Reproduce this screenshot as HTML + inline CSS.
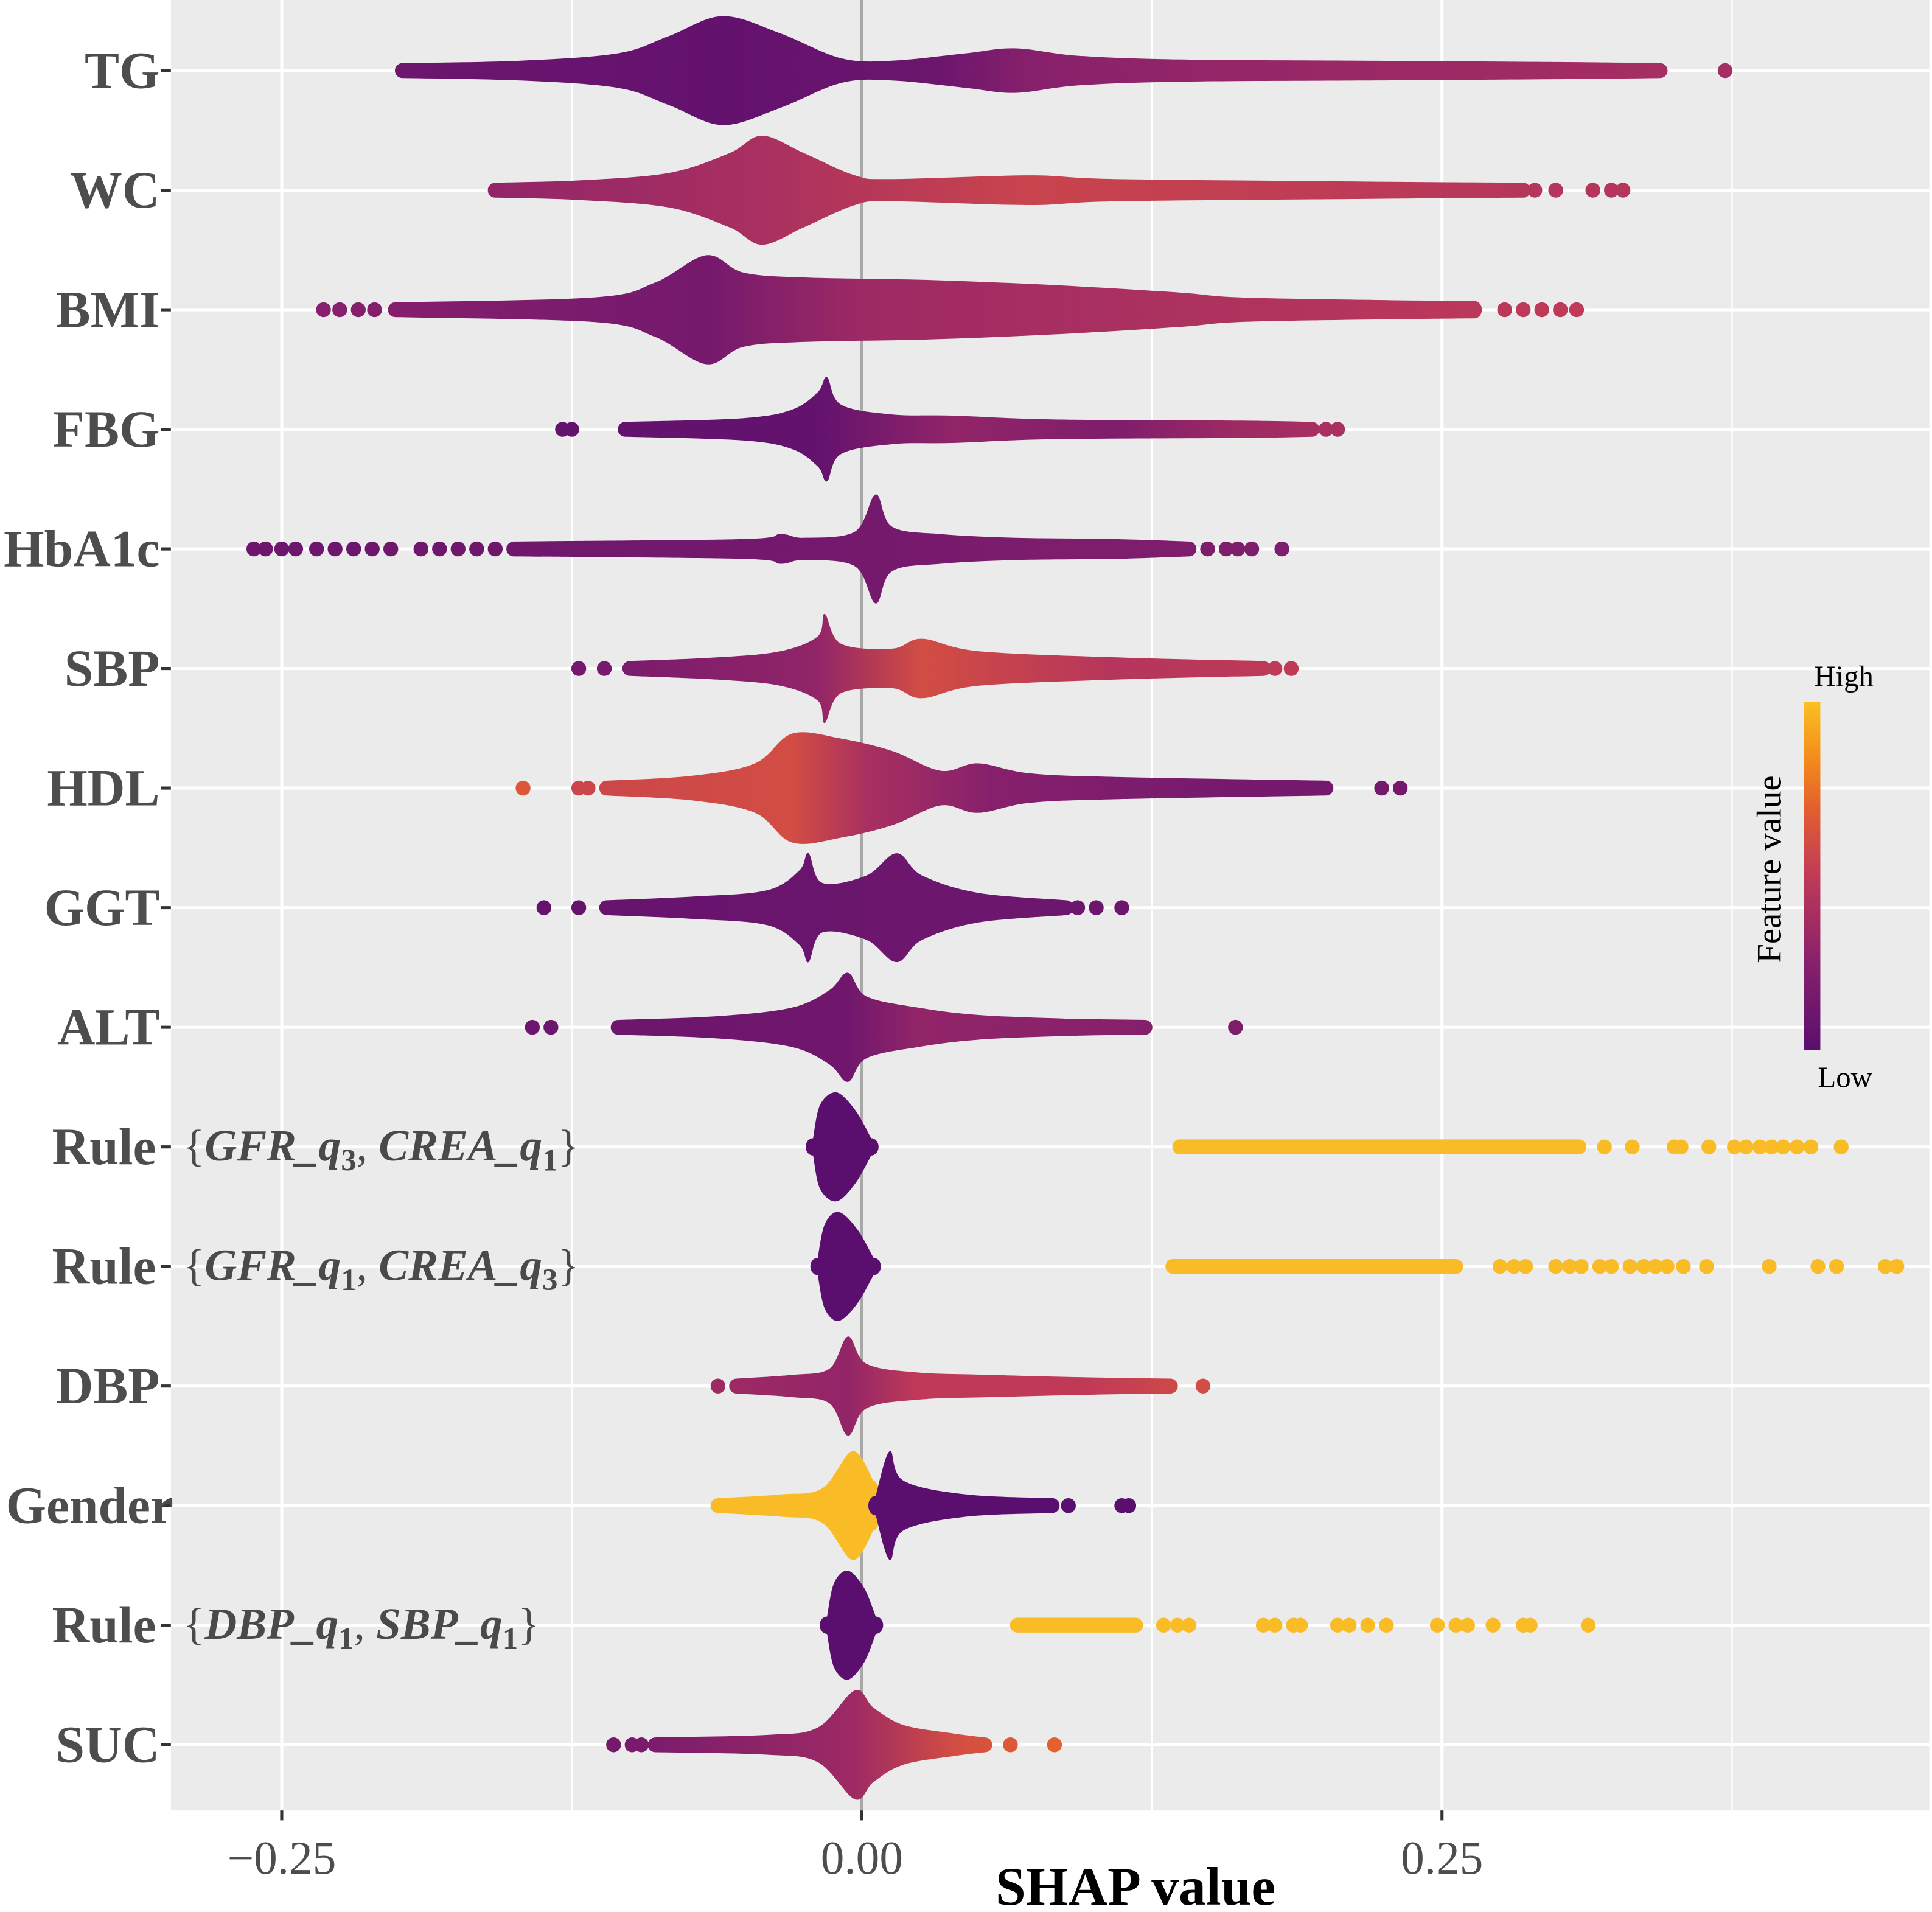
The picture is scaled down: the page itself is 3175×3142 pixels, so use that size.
<!DOCTYPE html>
<html><head><meta charset="utf-8"><style>
html,body{margin:0;padding:0;background:#fff;}
svg{display:block;}
</style></head><body>
<svg id="chart" xmlns="http://www.w3.org/2000/svg" width="3175" height="3142" viewBox="0 0 1560.2 1544" preserveAspectRatio="none">
<defs>
<linearGradient id="legendGrad" x1="0" y1="1" x2="0" y2="0">
<stop offset="0" stop-color="#5a0f6e"/><stop offset="0.25" stop-color="#87206c"/><stop offset="0.5" stop-color="#c03a58"/><stop offset="0.7" stop-color="#e4602e"/><stop offset="0.85" stop-color="#f4901a"/><stop offset="1" stop-color="#fbbf24"/>
</linearGradient>
</defs>
<rect x="138" y="0" width="1420" height="1462" fill="#ebebeb"/>
<g id="grid"></g>
<g id="marks"></g>
<g id="ylabels"></g>
<g id="xaxis"></g>
<g>
<rect x="1457" y="567" width="13" height="281" fill="url(#legendGrad)"/>
<text x="1489" y="554" font-family="Liberation Serif, serif" font-size="24" text-anchor="middle" fill="#000">High</text>
<text x="1490" y="878" font-family="Liberation Serif, serif" font-size="24" text-anchor="middle" fill="#000">Low</text>
<text x="1438" y="702" font-family="Liberation Serif, serif" font-size="28" text-anchor="middle" fill="#000" transform="rotate(-90 1438 702)">Feature value</text>
</g>
<text x="917" y="1538" font-family="Liberation Serif, serif" font-size="44" font-weight="bold" text-anchor="middle" fill="#000">SHAP value</text>
</svg>
<script>
const features = ["TG","WC","BMI","FBG","HbA1c","SBP","HDL","GGT","ALT","Rule1","Rule2","DBP","Gender","Rule3","SUC"];
const xTicks = [-0.25, 0, 0.25];
const xTickLabels = ["\u22120.25","0.00","0.25"];
const xMinor = [-0.125, 0.125, 0.375];

const tgShape = {x:[-0.198,-0.147,-0.105,-0.083,-0.060,-0.035,-0.009,0.013,0.045,0.066,0.093,0.136,0.216,0.296,0.344], d:[6,8,14,28,44,30,10,8,14,18,12,9,8,7,6], cx:[-0.198,-0.060,0.034,0.072,0.136,0.344], cv:[0.1,0.05,0.1,0.25,0.3,0.38]};
const tgDots = [0.372];
const wcShape = {x:[-0.158,-0.121,-0.083,-0.057,-0.043,-0.025,-0.003,0.013,0.072,0.109,0.216,0.285], d:[6,8,14,30,44,30,12,9,12,9,7,6], cx:[-0.158,-0.043,0.072,0.3], cv:[0.3,0.4,0.55,0.45]};
const wcDots = [0.290,0.299,0.315,0.323,0.328];
const bmiShape = {x:[-0.201,-0.115,-0.089,-0.067,-0.051,-0.025,0.029,0.082,0.136,0.162,0.216,0.264], d:[6,10,22,44,30,26,24,20,14,10,8,7], cx:[-0.232,-0.067,0.002,0.109,0.308], cv:[0.25,0.15,0.35,0.4,0.5]};
const bmiDots = [-0.232,-0.225,-0.217,-0.210,0.277,0.285,0.293,0.301,0.308];
const fbgShape = {x:[-0.102,-0.051,-0.030,-0.019,-0.015,-0.009,0.013,0.040,0.082,0.162,0.194], d:[6,9,16,30,42,20,12,11,8,7,6], cx:[-0.129,-0.019,0.040,0.109,0.162,0.205], cv:[0.05,0.05,0.3,0.2,0.35,0.4]};
const fbgDots = [-0.129,-0.125,0.200,0.205];
const hbShape = {x:[-0.150,-0.051,-0.035,-0.025,-0.003,0.006,0.013,0.034,0.066,0.109,0.141], d:[6,8,12,9,14,44,18,12,9,8,6], cx:[-0.262,0.006,0.082,0.181], cv:[0.1,0.15,0.2,0.2]};
const hbDots = [-0.262,-0.257,-0.250,-0.244,-0.235,-0.227,-0.219,-0.211,-0.203,-0.190,-0.182,-0.174,-0.166,-0.158,0.149,0.157,0.162,0.168,0.181];
const sbpShape = {x:[-0.100,-0.062,-0.035,-0.019,-0.016,-0.009,0.013,0.026,0.050,0.109,0.173], d:[6,9,14,26,44,20,16,24,14,9,6], cx:[-0.122,-0.019,0.026,0.109,0.185], cv:[0.15,0.3,0.6,0.45,0.5]};
const sbpDots = [-0.122,-0.111,0.178,0.185];
const hdlShape = {x:[-0.110,-0.073,-0.046,-0.030,-0.009,0.013,0.034,0.050,0.072,0.109,0.200], d:[6,10,20,44,40,30,14,20,12,9,6], cx:[-0.146,-0.030,0.002,0.055,0.162,0.232], cv:[0.55,0.6,0.4,0.25,0.15,0.15]};
const hdlDots = [-0.146,-0.122,-0.118,0.224,0.232];
const ggtShape = {x:[-0.110,-0.073,-0.041,-0.027,-0.023,-0.017,0.002,0.015,0.026,0.050,0.088], d:[6,9,14,30,44,20,26,44,26,12,6], cx:[-0.137,0.015,0.112], cv:[0.06,0.1,0.1]};
const ggtDots = [-0.137,-0.122,0.093,0.101,0.112];
const altShape = {x:[-0.105,-0.062,-0.030,-0.014,-0.006,0.002,0.024,0.050,0.088,0.122], d:[6,9,16,30,44,25,16,10,7,6], cx:[-0.142,-0.006,0.024,0.109,0.161], cv:[0.1,0.12,0.3,0.25,0.2]};
const altDots = [-0.142,-0.134,0.161];
const rule1Blob = {x:[-0.021,-0.018,-0.011,-0.003,0.004], d:[7,34,44,30,7], cx:[-0.021,0.004], cv:[0,0]};
const rule1Strip = {x:[0.137,0.309], d:[6,6], cx:[0.137,0.309], cv:[1,1]};
const rule1Dots = [0.320,0.332,0.350,0.353,0.365,0.376,0.381,0.387,0.392,0.397,0.403,0.409,0.422];
const rule2Blob = {x:[-0.019,-0.016,-0.010,-0.002,0.005], d:[7,34,44,30,7], cx:[-0.019,0.005], cv:[0,0]};
const rule2Strip = {x:[0.134,0.256], d:[6,6], cx:[0.134,0.256], cv:[1,1]};
const rule2Dots = [0.275,0.281,0.286,0.299,0.305,0.310,0.318,0.323,0.331,0.337,0.342,0.347,0.354,0.364,0.391,0.412,0.420,0.441,0.446];
const dbpShape = {x:[-0.054,-0.030,-0.014,-0.006,0.002,0.024,0.055,0.098,0.133], d:[6,9,14,40,18,11,9,7,6], cx:[-0.062,-0.006,0.024,0.098,0.147], cv:[0.35,0.3,0.5,0.5,0.6]};
const dbpDots = [-0.062,0.147];
const genderHigh = {x:[-0.062,-0.035,-0.017,-0.004,0.005], d:[6,9,14,44,20], cx:[-0.062,0.005], cv:[1,1]};
const genderLow = {x:[0.006,0.012,0.018,0.045,0.082], d:[8,44,20,9,6], cx:[0.006,0.115], cv:[0,0]};
const genderDots = [0.089,0.112,0.115];
const rule3Blob = {x:[-0.015,-0.012,-0.006,0.001,0.006], d:[7,34,44,30,7], cx:[-0.015,0.006], cv:[0,0]};
const rule3Strip = {x:[0.067,0.118], d:[6,6], cx:[0.067,0.118], cv:[1,1]};
const rule3Dots = [0.130,0.136,0.141,0.173,0.178,0.186,0.189,0.205,0.210,0.218,0.226,0.248,0.256,0.261,0.272,0.285,0.288,0.313];
const sucShape = {x:[-0.089,-0.041,-0.019,-0.003,0.005,0.018,0.040,0.053], d:[6,8,14,44,30,16,9,6], cx:[-0.107,-0.003,0.040,0.083], cv:[0.15,0.35,0.6,0.7]};
const sucDots = [-0.107,-0.099,-0.095,0.064,0.083];

const rows = [
 [[tgShape],tgDots,tgShape],[[wcShape],wcDots,wcShape],[[bmiShape],bmiDots,bmiShape],[[fbgShape],fbgDots,fbgShape],
 [[hbShape],hbDots,hbShape],[[sbpShape],sbpDots,sbpShape],[[hdlShape],hdlDots,hdlShape],[[ggtShape],ggtDots,ggtShape],
 [[altShape],altDots,altShape],[[rule1Blob,rule1Strip],rule1Dots,rule1Strip],[[rule2Blob,rule2Strip],rule2Dots,rule2Strip],
 [[dbpShape],dbpDots,dbpShape],[[genderHigh,genderLow],genderDots,genderLow],[[rule3Blob,rule3Strip],rule3Dots,rule3Strip],
 [[sucShape],sucDots,sucShape]
];

const NS = "http://www.w3.org/2000/svg";
const X0 = 696, XU = 1874;
function xs(v){ return X0 + v*XU; }
function ys(i){ return 57 + i*96.57; }
const cStops=[[0,[90,15,110]],[0.25,[135,32,108]],[0.5,[192,58,88]],[0.7,[228,96,46]],[0.85,[244,144,26]],[1,[250,188,38]]];
function cmap(t){
  t=Math.max(0,Math.min(1,t));
  for(let k=1;k<cStops.length;k++){ if(t<=cStops[k][0]){ const a=cStops[k-1],b=cStops[k]; const f=(t-a[0])/(b[0]-a[0]);
    return "rgb("+a[1].map((c,j)=>Math.round(c+(b[1][j]-c)*f)).join(",")+")"; } }
  return "rgb(250,188,38)";
}
function interp(xa,va,x){ if(x<=xa[0])return va[0]; for(let k=1;k<xa.length;k++){ if(x<=xa[k]){const f=(x-xa[k-1])/(xa[k]-xa[k-1]); return va[k-1]+(va[k]-va[k-1])*f;} } return va[va.length-1]; }
function mk(tag,attrs,parent){ const e=document.createElementNS(NS,tag); for(const k in attrs)e.setAttribute(k,attrs[k]); parent.appendChild(e); return e; }
function smooth(pts){
  let d="";
  for(let k=0;k<pts.length-1;k++){
    const p0=pts[Math.max(0,k-1)],p1=pts[k],p2=pts[k+1],p3=pts[Math.min(pts.length-1,k+2)];
    const c1=[p1[0]+(p2[0]-p0[0])/6,p1[1]+(p2[1]-p0[1])/6];
    const c2=[p2[0]-(p3[0]-p1[0])/6,p2[1]-(p3[1]-p1[1])/6];
    d+=" C"+c1[0].toFixed(1)+","+c1[1].toFixed(1)+" "+c2[0].toFixed(1)+","+c2[1].toFixed(1)+" "+p2[0].toFixed(1)+","+p2[1].toFixed(1);
  }
  return d;
}

const grid=document.getElementById("grid");
features.forEach((f,i)=>{
  const l=mk("line",{x1:138,x2:1558,y1:ys(i),y2:ys(i),stroke:"#fff","stroke-width":2.5},grid);
  
  
});
xMinor.forEach(v=>{
  const l=mk("line",{x1:xs(v),x2:xs(v),y1:0,y2:1462,stroke:"#fff","stroke-width":1.2},grid);
  
  
});
xTicks.forEach(v=>{
  const l=mk("line",{x1:xs(v),x2:xs(v),y1:0,y2:1462,stroke:v===0?"#a8a8a8":"#fff","stroke-width":2.5},grid);
  
  
});

const marks=document.getElementById("marks");
const defs=document.querySelector("defs");
let gid=0;
rows.forEach((row,i)=>{
  const y=ys(i);
  const g=mk("g",{},marks);
  
  
  row[0].forEach(s=>{
    const id="g"+(gid++);
    const lg=mk("linearGradient",{id:id,gradientUnits:"userSpaceOnUse",x1:xs(s.cx[0]),x2:xs(s.cx[s.cx.length-1])+0.01,y1:0,y2:0},defs);
    s.cx.forEach((cx,k)=>{ const span=s.cx[s.cx.length-1]-s.cx[0]||1; mk("stop",{offset:((cx-s.cx[0])/span),"stop-color":cmap(s.cv[k])},lg); });
    const top=s.x.map((x,k)=>[xs(x),y-Math.max(6,s.d[k])]);
    const bot=s.x.map((x,k)=>[xs(x),y+Math.max(6,s.d[k])]).reverse();
    const rEnd=Math.max(6,s.d[s.d.length-1]), rStart=Math.max(6,s.d[0]);
    const ex=Math.min(6,rEnd), sx=Math.min(6,rStart);
    let d="M"+top[0][0].toFixed(1)+","+top[0][1].toFixed(1)+smooth(top);
    d+=" A"+ex+","+rEnd+" 0 0 1 "+bot[0][0].toFixed(1)+","+bot[0][1].toFixed(1)+smooth(bot);
    d+=" A"+sx+","+rStart+" 0 0 1 "+top[0][0].toFixed(1)+","+top[0][1].toFixed(1)+" Z";
    const p=mk("path",{d:d,fill:"url(#"+id+")"},g);
    
    
  });
  const cs=row[2];
  row[1].forEach(x=>{
    let v=interp(cs.cx,cs.cv,x);
    if(features[i]==="HDL" && x<-0.14) v=0.65;
    const c=mk("circle",{cx:xs(x),cy:y,r:6,fill:cmap(v)},g);
    
    
  });
});

const yl=document.getElementById("ylabels");
const labelText={Rule1:"Rule",Rule2:"Rule",Rule3:"Rule"};
const ruleMath={Rule1:[["GFR_q","3"],["CREA_q","1"]],Rule2:[["GFR_q","1"],["CREA_q","3"]],Rule3:[["DBP_q","1"],["SBP_q","1"]]};
features.forEach((f,i)=>{
  const y=ys(i);
  const tk=mk("line",{x1:130,x2:138,y1:y,y2:y,stroke:"#333","stroke-width":2.5},yl);
  
  
  const isRule=!!ruleMath[f];
  const t=mk("text",{x:f==="Gender"?140:(isRule?126:129),y:y+14,"font-family":"Liberation Serif, serif","font-size":42,"font-weight":"bold","text-anchor":"end",fill:"#4d4d4d"},yl);
  t.textContent=labelText[f]||f;
  
  
  if(isRule){
    const m=mk("text",{x:148,y:y+11,"font-family":"Liberation Serif, serif","font-size":36,"font-style":"italic","font-weight":"bold",fill:"#4a4a4a"},yl);
    
    
    const parts=ruleMath[f];
    let s=mk("tspan",{"font-style":"normal","font-weight":"normal"},m); s.textContent="{";
    parts.forEach((p,k)=>{
      let a=mk("tspan",{},m); a.textContent=p[0];
      let b=mk("tspan",{dy:8,"font-size":25,"font-style":"normal"},m); b.textContent=p[1];
      let c=mk("tspan",{dy:-8,"font-style":"normal","font-weight":"normal"},m); c.textContent=k===0?", ":"}";
    });
  }
});

const xa=document.getElementById("xaxis");
xTicks.forEach((v,k)=>{
  const l=mk("line",{x1:xs(v),x2:xs(v),y1:1462,y2:1470,stroke:"#333","stroke-width":2.5},xa);
  
  
  const t=mk("text",{x:xs(v),y:1513,"font-family":"Liberation Serif, serif","font-size":38,"text-anchor":"middle",fill:"#4d4d4d"},xa);
  t.textContent=xTickLabels[k];
  
  
});
</script>
</body></html>
